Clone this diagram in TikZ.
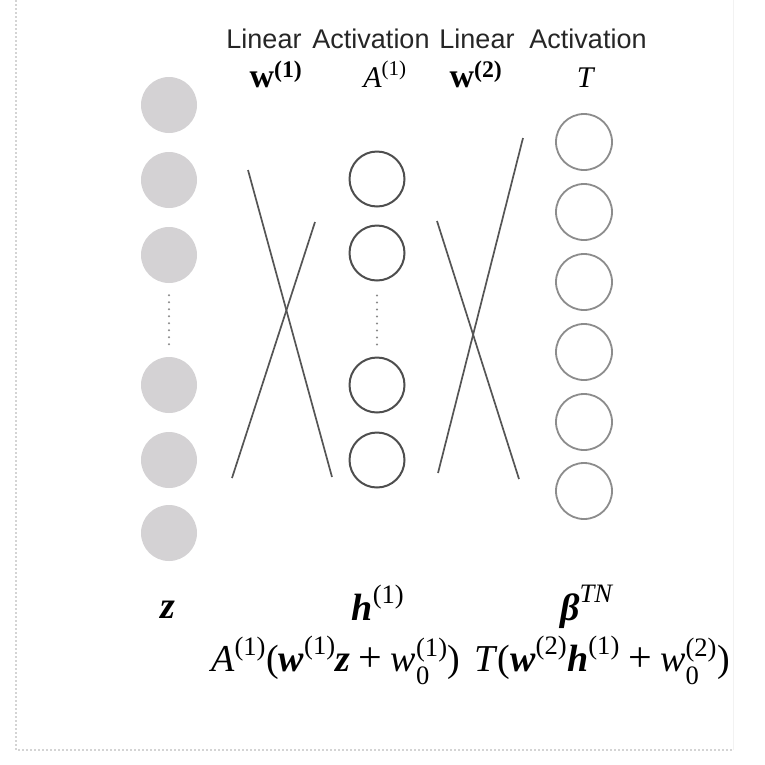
\documentclass[tikz,border=0pt]{standalone}
\usepackage{amsmath}
\usepackage{fontspec}
\setmainfont{Liberation Serif}
\newfontfamily\sanslab{Liberation Sans}
\newcommand{\bit}[1]{\textbf{\textit{#1}}}
\newcommand{\tit}[1]{\textit{#1}}
\newcommand{\tx}[1]{\text{#1}}
\newcommand{\plusop}{\mkern2mu\mathbin{\tx{\fontsize{42}{44}\selectfont+}}\mkern2mu}
\definecolor{nodegray}{HTML}{D4D2D4}
\definecolor{linegray}{HTML}{555555}
\definecolor{ringdark}{HTML}{4E4E4E}
\definecolor{ringlight}{HTML}{8C8C8C}
\definecolor{framegray}{HTML}{D4D4D4}
\definecolor{dotgray}{HTML}{8A8A8A}
\begin{document}
\begin{tikzpicture}[x=1pt,y=-1pt,
  inputnode/.style={circle,fill=nodegray,minimum size=56pt,inner sep=0pt},
  hidnode/.style={circle,draw=ringdark,line width=2pt,minimum size=55pt,inner sep=0pt},
  outnode/.style={circle,draw=ringlight,line width=1.8pt,minimum size=56pt,inner sep=0pt},
  wire/.style={draw=linegray,line width=1.7pt},
  ellip/.style={draw=dotgray,line width=2.4pt,line cap=round,dash pattern=on 0pt off 7pt},
  framedot/.style={draw=framegray,line width=1.2pt,dash pattern=on 1.5pt off 2.5pt},
  lab/.style={font=\sanslab\fontsize{27}{32}\selectfont,text=black!85,anchor=base,inner sep=0pt},
  tmath/.style={font=\fontsize{30}{36}\selectfont,anchor=base,inner sep=0pt},
  wmath/.style={font=\fontsize{34}{40}\selectfont,anchor=base,inner sep=0pt},
  bmath/.style={font=\fontsize{38}{44}\selectfont,anchor=base,inner sep=0pt}
]
\useasboundingbox (0,0) rectangle (765,764);
\fill[white] (0,0) rectangle (765,764);

% frame
\coordinate (ftl) at (16,0);
\coordinate (fbl) at (16,750);
\coordinate (fbr) at (733,750);
\coordinate (ftr) at (733,0);
\draw[framedot] (ftl) -- (fbl) -- (fbr);
\draw[draw=black!5,line width=1pt] (ftr) -- (fbr);

% header labels
\node[lab] (lin1) at (264,48) {Linear};
\node[lab] (act1) at (371,48) {Activation};
\node[lab] (lin2) at (477,48) {Linear};
\node[lab] (act2) at (588,48) {Activation};

\node[wmath] (w1) at (276,87) {$\tx{\textbf{w}}^{\tx{\textbf{(1)}}}$};
\node[tmath] (a1) at (385,87) {$\tx{\tit{A}}^{\tx{(1)}}$};
\node[wmath] (w2) at (476,87) {$\tx{\textbf{w}}^{\tx{\textbf{(2)}}}$};
\node[tmath] (tt) at (586,87) {$\tx{\tit{T}}$};

% input layer
\node[inputnode] (z1) at (169,105) {};
\node[inputnode] (z2) at (169,180) {};
\node[inputnode] (z3) at (169,255) {};
\node[inputnode] (z4) at (169,385) {};
\node[inputnode] (z5) at (169,460) {};
\node[inputnode] (z6) at (169,533) {};
\draw[ellip] ([yshift=-12pt]z3.south) -- ([yshift=10pt]z4.north);

% hidden layer
\node[hidnode] (h1) at (377,179) {};
\node[hidnode] (h2) at (377,253) {};
\node[hidnode] (h3) at (377,385) {};
\node[hidnode] (h4) at (377,460) {};
\draw[ellip] ([yshift=-14pt]h2.south) -- ([yshift=10pt]h3.north);

% output layer
\node[outnode] (o1) at (584,142) {};
\node[outnode] (o2) at (584,212) {};
\node[outnode] (o3) at (584,282) {};
\node[outnode] (o4) at (584,352) {};
\node[outnode] (o5) at (584,422) {};
\node[outnode] (o6) at (584,491) {};

% crossing wires
\coordinate (c1a) at (248,170);
\coordinate (c1b) at (332,477);
\coordinate (c2a) at (315,222);
\coordinate (c2b) at (232,478);
\coordinate (c3a) at (437,221);
\coordinate (c3b) at (519,479);
\coordinate (c4a) at (523,138);
\coordinate (c4b) at (438,473);
\draw[wire] (c1a) -- (c1b);
\draw[wire] (c2a) -- (c2b);
\draw[wire] (c3a) -- (c3b);
\draw[wire] (c4a) -- (c4b);

% bottom labels
\node[bmath] (zl) at (168,618) {$\tx{\bit{z}}$};
\node[bmath] (hl) at (378,620) {$\tx{\bit{h}}^{\tx{(1)}}$};
\node[bmath] (bl) at (587,620) {$\tx{\bit{β}}^{\tx{\tit{TN}}}$};

\node[bmath,anchor=base west] (f1) at (211,671)
  {$\tx{\tit{A}}^{\tx{(1)}}\tx{(\bit{w}}^{\tx{(1)}}\tx{\bit{z}}\plusop\tx{\tit{w}}^{\tx{(1)}}_{\tx{0}}\tx{)}$};
\node[bmath,anchor=base west] (f2) at (474,671)
  {$\tx{\tit{T}(\bit{w}}^{\tx{(2)}}\tx{\bit{h}}^{\tx{(1)}}\plusop\tx{\tit{w}}^{\tx{(2)}}_{\tx{0}}\tx{)}$};
\end{tikzpicture}
\end{document}
